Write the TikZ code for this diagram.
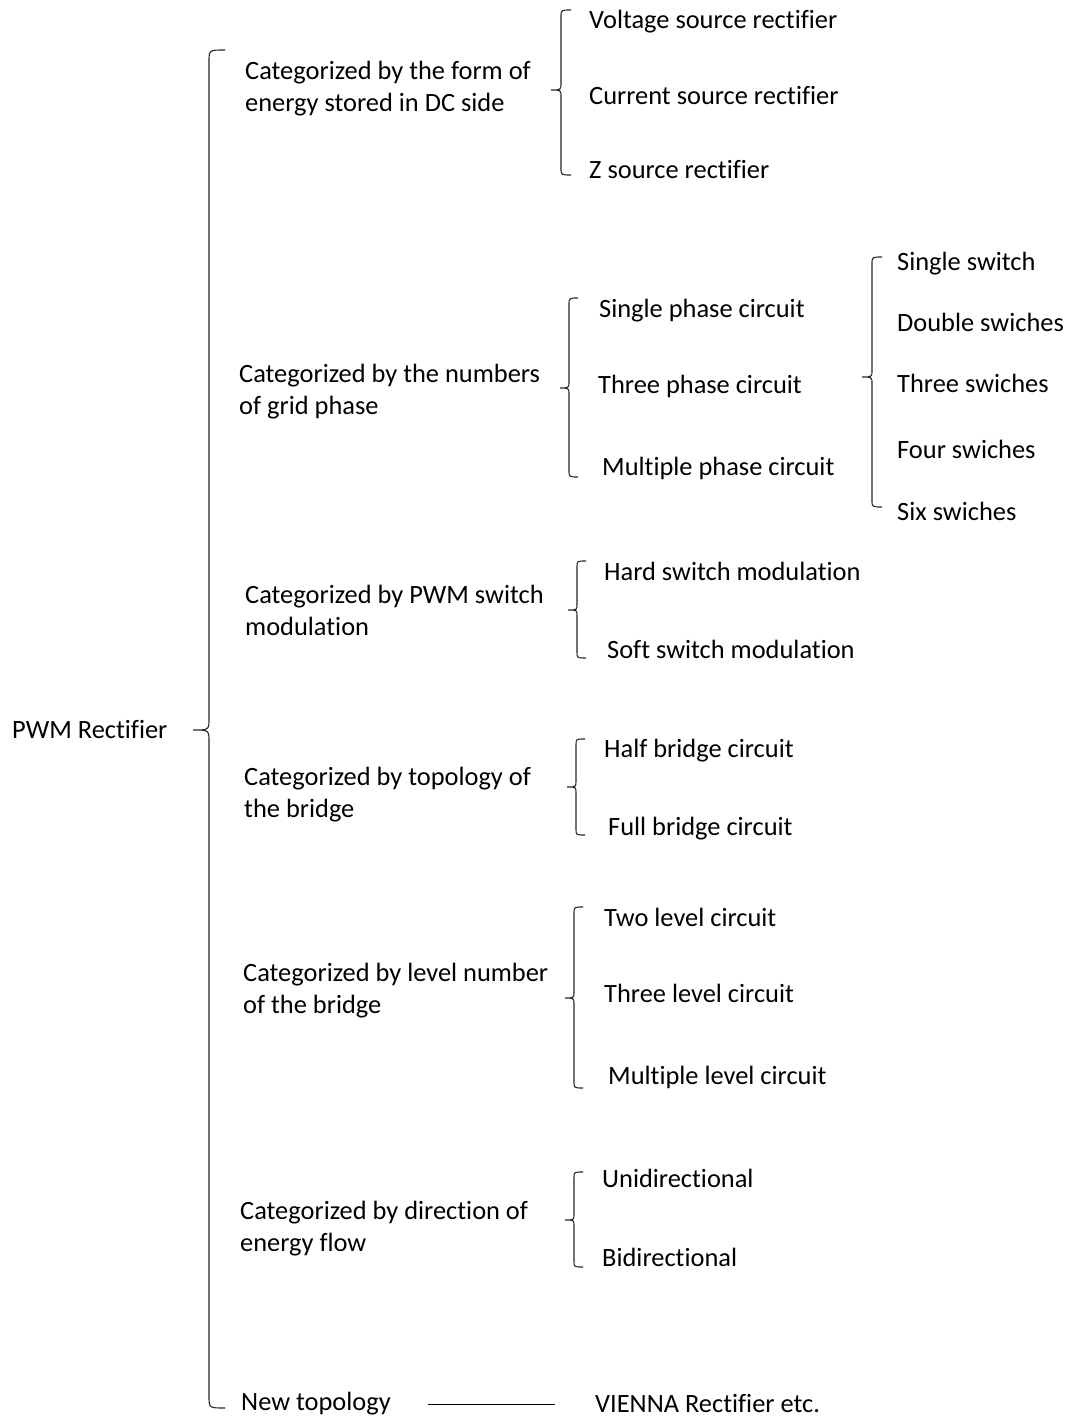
\documentclass[tikz,border=0pt]{standalone}
\usepackage{fontspec}
\setmainfont[Ligatures=NoCommon]{Carlito}
\usepackage{tikz}
\usetikzlibrary{calc}

% brace: x, top, tip, bottom, width, corner
\newcommand{\curly}[6]{%
	\draw[brace] (#1+#5,#2) .. controls (#1,#2) .. (#1,#2+#6) -- (#1,#3-#6) .. controls (#1,#3) .. (#1-#5,#3)
		.. controls (#1,#3) .. (#1,#3+#6) -- (#1,#4-#6) .. controls (#1,#4) .. (#1+#5,#4);}

\begin{document}
\begin{tikzpicture}[x=1pt, y=-1pt,
	brace/.style={line width=1.1pt, black!85},
	every node/.style={inner sep=0, anchor=west, yshift=-2.5pt, font=\fontsize{26.4}{32}\selectfont},
	leaf/.style={text height=18pt, text depth=6pt},
	cat/.style={align=left}]
		\useasboundingbox (0,0) rectangle (1073,1418);
		
		\node[leaf] (root) at (12,730) {PWM Rectifier};
		
		\begin{scope}[every node/.append style={cat}]
		\node (c1) at (245,86) {Categorized by the form of\\energy stored in DC side};
		\node (c2) at (239,389) {Categorized by the numbers\\of grid phase};
		\node (c3) at (245,608) {Categorized by PWM switch\\modulation};
		\node (c4) at (244,792) {Categorized by topology of\\the bridge};
		\node (c5) at (243,988) {Categorized by level number\\of the bridge};
		\node (c6) at (240,1226) {Categorized by direction of\\energy flow};
		\end{scope}
		\node[leaf] (c7) at (241,1402) {New topology};
		
		\begin{scope}[every node/.append style={leaf}]
		\node (c1a) at (589,20) {Voltage source rectifier};
		\node (c1b) at (589,96) {Current source rectifier};
		\node (c1c) at (589,170) {Z source rectifier};
		
		\node (c2a) at (599,309) {Single phase circuit};
		\node (c2b) at (598,385) {Three phase circuit};
		\node (c2c) at (602,467) {Multiple phase circuit};
		
		\node (s1) at (897,262) {Single switch};
		\node (s2) at (897,323) {Double swiches};
		\node (s3) at (897,384) {Three swiches};
		\node (s4) at (897,450) {Four swiches};
		\node (s6) at (897,512) {Six swiches};
		
		\node (c3a) at (604,572) {Hard switch modulation};
		\node (c3b) at (607,650) {Soft switch modulation};
		
		\node (c4a) at (604,749) {Half bridge circuit};
		\node (c4b) at (608,827) {Full bridge circuit};
		
		\node (c5a) at (604,918) {Two level circuit};
		\node (c5b) at (604,994) {Three level circuit};
		\node (c5c) at (608,1076) {Multiple level circuit};
		
		\node (c6a) at (602,1179) {Unidirectional};
		\node (c6b) at (602,1258) {Bidirectional};
		
		\node (c7a) at (595,1404) {VIENNA Rectifier etc.};
		\end{scope}
		
		% braces
		\curly{209}{50}{730}{1408}{16}{12}
		\curly{561}{10}{90}{175}{10}{7}
		\curly{569}{298}{388}{477}{9}{7}
		\curly{872}{257}{377}{507}{10}{7}
		\curly{577}{561}{610}{658}{9}{6}
		\curly{576}{739}{787}{835}{9}{6}
		\curly{574}{907}{998}{1088}{9}{7}
		\curly{574}{1172}{1220}{1267}{9}{6}
		
		\draw[-, line width=1.4pt, shorten <=37pt, shorten >=40pt] (c7) -- (c7 -| c7a.west);
		
\end{tikzpicture}
\end{document}
